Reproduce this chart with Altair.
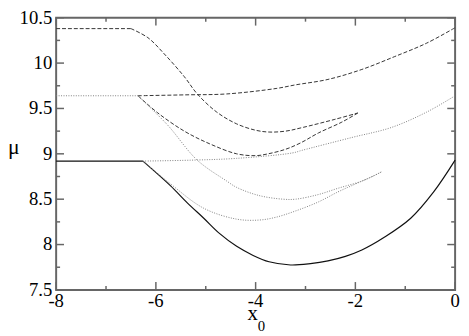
import altair as alt
import pandas as pd

# ---- data (each branch listed in drawing order) ----
solid_flat_x = [-8, -6.26]
solid_flat_y = [8.92, 8.92]
solid_x = [-6.26, -5.71, -5.37, -5.04, -4.72, -4.38, -4.05, -3.73, -3.3, -2.9, -2.55, -2.2, -1.87, -1.42, -0.89, -0.43, 0]
solid_y = [8.92, 8.65, 8.46, 8.29, 8.12, 7.98, 7.88, 7.81, 7.775, 7.79, 7.82, 7.87, 7.94, 8.08, 8.29, 8.58, 8.93]

dash_flat_x = [-8, -6.5]
dash_flat_y = [10.38, 10.38]
dash_upper_x = [-6.5, -6.16, -5.83, -5.43, -5.17, -4.78, -4.38, -4.0, -3.73, -3.4, -3.06, -2.41, -1.95]
dash_upper_y = [10.38, 10.28, 10.10, 9.85, 9.66, 9.46, 9.33, 9.26, 9.24, 9.25, 9.29, 9.38, 9.45]
dash_lower_x = [-1.95, -2.27, -2.74, -3.1, -3.4, -3.75, -3.99, -4.38, -4.92, -5.43, -5.96, -6.36]
dash_lower_y = [9.45, 9.35, 9.23, 9.12, 9.05, 9.0, 8.98, 9.0, 9.11, 9.25, 9.45, 9.64]
dash_rise_x = [-6.36, -5.4, -4.58, -3.59, -3.2, -2.55, -1.87, -1.22, -0.57, 0]
dash_rise_y = [9.64, 9.65, 9.66, 9.72, 9.76, 9.82, 9.93, 10.07, 10.22, 10.39]

dot_flat_x = [-8, -6.36]
dot_flat_y = [9.64, 9.64]
dot_upper_x = [-6.36, -5.77, -5.17, -4.58, -4.38, -3.93, -3.45, -3.2, -2.75, -2.35, -1.87, -1.48]
dot_upper_y = [9.64, 9.32, 8.93, 8.70, 8.63, 8.54, 8.50, 8.50, 8.55, 8.62, 8.70, 8.80]
dot_lower_x = [-1.48, -1.62, -2.07, -2.35, -2.74, -3.2, -3.6, -3.93, -4.38, -5.04, -5.71, -6.26]
dot_lower_y = [8.80, 8.76, 8.65, 8.58, 8.47, 8.37, 8.30, 8.27, 8.28, 8.40, 8.67, 8.92]
dot_rise_x = [-6.26, -5.3, -4.38, -3.26, -3.06, -2.07, -1.28, -0.57, 0]
dot_rise_y = [8.92, 8.93, 8.95, 9.01, 9.04, 9.18, 9.29, 9.46, 9.64]

# ---- axes: tick positions and their labels ----
x_major = [-8, -6, -4, -2, 0]
x_major_labels = ["-8", "-6", "-4", "-2", "0"]
x_minor = [-7, -5, -3, -1]
y_major = [7.5, 8, 8.5, 9, 9.5, 10, 10.5]
y_major_labels = ["7.5", "8", "8.5", "9", "9.5", "10", "10.5"]
y_minor = [7.75, 8.25, 8.75, 9.25, 9.75, 10.25]

W, H = 406, 277
FONT = "Liberation Serif"
TC = "#666666"


def curve(name, xs, ys):
    return pd.DataFrame({"curve": name, "i": range(len(xs)), "x": xs, "y": ys})


solid_df = pd.concat([curve("s0", solid_flat_x, solid_flat_y), curve("s1", solid_x, solid_y)])
dash_df = pd.concat([curve("d0", dash_flat_x, dash_flat_y), curve("d1", dash_upper_x, dash_upper_y),
                     curve("d2", dash_lower_x, dash_lower_y), curve("d3", dash_rise_x, dash_rise_y)])
dot_df = pd.concat([curve("p0", dot_flat_x, dot_flat_y), curve("p1", dot_upper_x, dot_upper_y),
                    curve("p2", dot_lower_x, dot_lower_y), curve("p3", dot_rise_x, dot_rise_y)])

xs = alt.Scale(domain=[-8, 0], nice=False, zero=False)
ys = alt.Scale(domain=[7.5, 10.5], nice=False, zero=False)


def X(f):
    return alt.X(f, type="quantitative", scale=xs, axis=None)


def Y(f):
    return alt.Y(f, type="quantitative", scale=ys, axis=None)


def lines(df, color, width, dash=None):
    kw = dict(color=color, strokeWidth=width, interpolate="catmull-rom")
    if dash:
        kw["strokeDash"] = dash
    return alt.Chart(df).mark_line(**kw).encode(
        x=X("x"), y=Y("y"), detail="curve:N", order="i:Q")


solid = lines(solid_df, "#111111", 1.2)
dashed = lines(dash_df, "#333333", 1.0, [4, 2])
dotted = lines(dot_df, "#808080", 1.0, [1, 1.5])


def xticks(vals, length):
    d = pd.DataFrame({"v": vals})
    b = alt.Chart(d).mark_rule(color=TC, strokeWidth=1.5).encode(
        x=X("v"), y=alt.value(H), y2=alt.value(H - length))
    t = alt.Chart(d).mark_rule(color=TC, strokeWidth=1.5).encode(
        x=X("v"), y=alt.value(0), y2=alt.value(length))
    return [b, t]


def yticks(vals, length):
    d = pd.DataFrame({"v": vals})
    l = alt.Chart(d).mark_rule(color=TC, strokeWidth=1.5).encode(
        y=Y("v"), x=alt.value(0), x2=alt.value(length))
    r = alt.Chart(d).mark_rule(color=TC, strokeWidth=1.5).encode(
        y=Y("v"), x=alt.value(W), x2=alt.value(W - length))
    return [l, r]


tick_layers = xticks(x_major, 8) + xticks(x_minor, 4) + yticks(y_major, 8) + yticks(y_minor, 4)

xlabels = alt.Chart(pd.DataFrame({"v": x_major, "t": x_major_labels})).mark_text(
    font=FONT, fontSize=19, color="black", align="center", baseline="top"
).encode(x=X("v"), y=alt.value(H + 2), text="t:N")
ylabels = alt.Chart(pd.DataFrame({"v": y_major, "t": y_major_labels})).mark_text(
    font=FONT, fontSize=19, color="black", align="right", baseline="middle"
).encode(y=Y("v"), x=alt.value(-4), text="t:N")

xlab = alt.Chart(pd.DataFrame({"t": ["x"]})).mark_text(
    font=FONT, fontSize=21, color="black", align="center", baseline="alphabetic"
).encode(text="t:N", x=alt.value(200), y=alt.value(H + 31))
xsub = alt.Chart(pd.DataFrame({"t": ["0"]})).mark_text(
    font=FONT, fontSize=15, color="black", align="center", baseline="alphabetic"
).encode(text="t:N", x=alt.value(209), y=alt.value(H + 42))
mulab = alt.Chart(pd.DataFrame({"t": ["μ"]})).mark_text(
    font=FONT, fontSize=22, color="black", align="center", baseline="middle"
).encode(text="t:N", x=alt.value(-43), y=alt.value(132))

chart = alt.layer(solid, dashed, dotted, *tick_layers, xlabels, ylabels, xlab, xsub, mulab).properties(
    width=W, height=H,
    background="white",
    autosize=alt.AutoSizeParams(type="none"),
    padding={"left": 49, "top": 7, "right": 6, "bottom": 44},
).configure_view(stroke="#666666", strokeWidth=2)

chart.save("out.html", embed_options={"renderer": "svg", "actions": False})
